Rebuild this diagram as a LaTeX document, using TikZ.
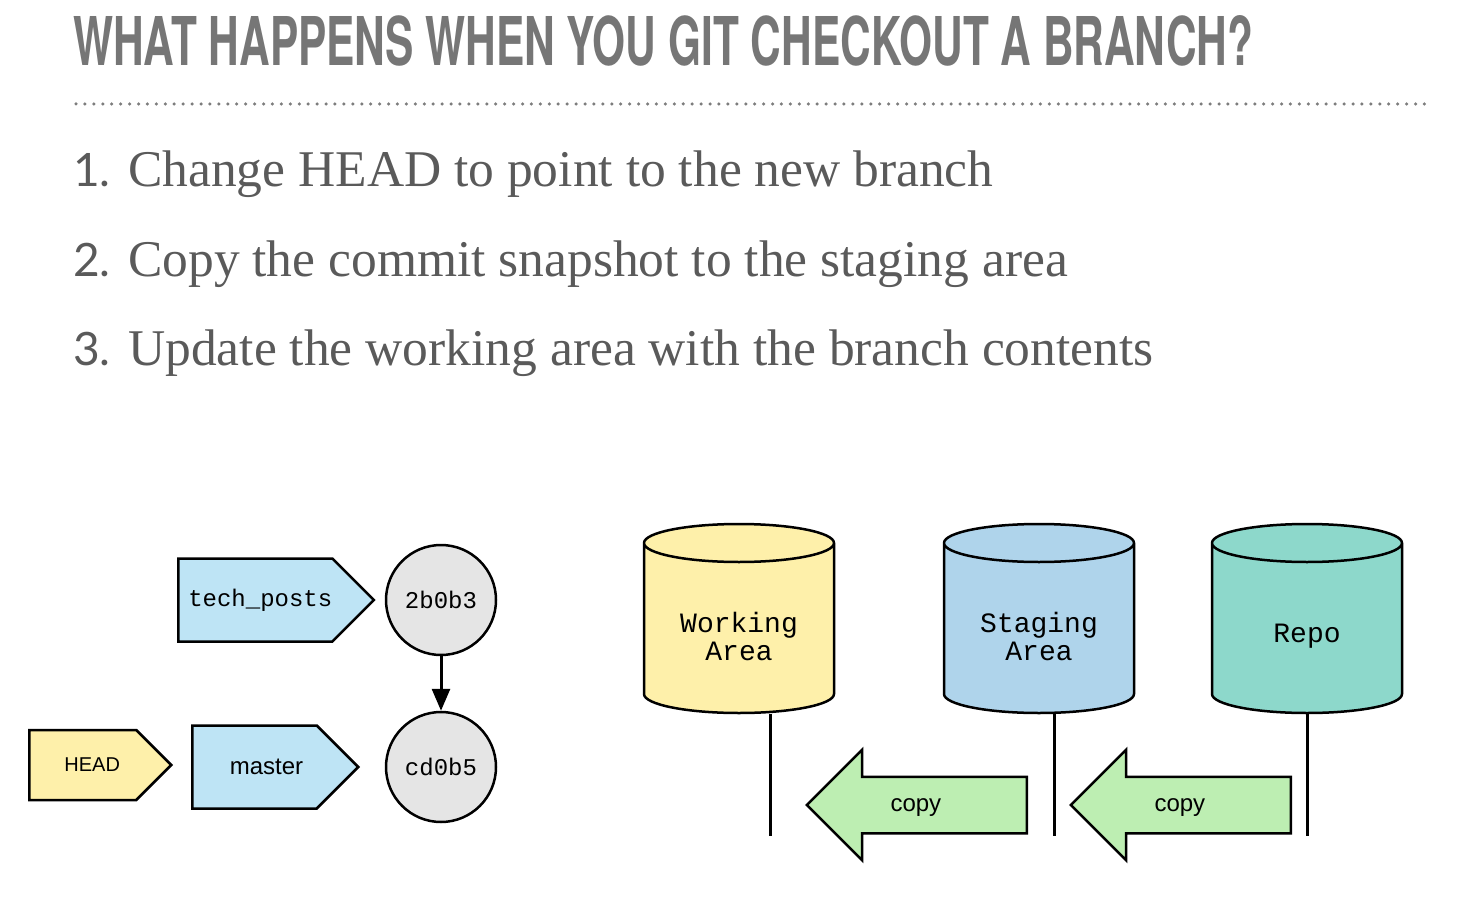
\documentclass[tikz,border=0pt]{standalone}
\usepackage{fontspec}
\setmainfont{Liberation Serif}
\setsansfont{Liberation Sans}
\setmonofont{Liberation Mono}
\newfontfamily\titlefont{TeX Gyre Heros}
\newfontfamily\numfont{Lato}
\usetikzlibrary{positioning,shapes.geometric,shapes.symbols,shapes.arrows,arrows.meta}

\definecolor{titlegray}{RGB}{118,118,118}
\definecolor{textgray}{RGB}{90,90,90}
\definecolor{dotgray}{RGB}{125,125,125}
\definecolor{branchblue}{RGB}{190,228,245}
\definecolor{headyellow}{RGB}{254,240,170}
\definecolor{commitgray}{RGB}{229,229,229}
\definecolor{stageblue}{RGB}{175,212,235}
\definecolor{repoteal}{RGB}{141,216,203}
\definecolor{copygreen}{RGB}{189,238,178}

\begin{document}
\begin{tikzpicture}[
        x=1pt, y=-1pt,
        branch/.style={
                signal,
                signal to=east,
                signal from=nowhere,
                draw=black,
                line width=2.5pt,
                fill=branchblue,
                minimum height=83pt,
                inner sep=0pt,
                font=\fontsize{24}{24}\selectfont\sffamily
            },
        headref/.style={
                branch,
                fill=headyellow,
                minimum height=70pt,
                font=\fontsize{20}{20}\selectfont\sffamily
            },
        commit/.style={
                circle,
                draw=black,
                line width=2.5pt,
                fill=commitgray,
                minimum size=110pt,
                inner sep=0pt,
                font=\fontsize{24}{24}\selectfont\ttfamily
            },
        area/.style={
                cylinder,
                shape border rotate=90,
                aspect=0.2,
                draw=black,
                line width=2.5pt,
                text width=190pt,
                minimum width=190pt,
                minimum height=189pt,
                inner sep=0pt
            },
        areatext/.style={
                align=center,
                inner sep=0pt,
                font=\fontsize{28}{28}\selectfont\ttfamily
            },
        copyarrow/.style={
                single arrow,
                shape border rotate=180,
                draw=black,
                line width=2.5pt,
                fill=copygreen,
                minimum height=220pt,
                single arrow head extend=27pt,
                text height=18pt,
                text depth=6pt,
                inner ysep=15pt,
                inner xsep=2pt,
                font=\fontsize{24}{24}\selectfont\sffamily
            },
        stem/.style={line width=3pt},
        item/.style={anchor=base west, inner sep=0pt, text=textgray, font=\fontsize{51.5}{51.5}\selectfont},
        num/.style={anchor=base west, inner sep=0pt, text=textgray, font=\fontsize{46}{46}\selectfont\numfont}
    ]
    \useasboundingbox (0,0) rectangle (1477,912);

    % heading
    \node[anchor=north west, inner sep=0pt, text=titlegray] (title) at (73,15)
        {\resizebox{1180pt}{50pt}{\titlefont\bfseries WHAT HAPPENS WHEN YOU GIT CHECKOUT A BRANCH?}};
    \draw[dotgray, line width=3.5pt, line cap=round, dash pattern=on 0pt off 8.93pt] (76,104) -- (1432,104);

    % steps
    \node[num]  (n1) at (73,187)  {1.};
    \node[item] (s1) at (128,187) {Change HEAD to point to the new branch};
    \node[num]  (n2) at (73,276)  {2.};
    \node[item] (s2) at (128,276) {Copy the commit snapshot to the staging area};
    \node[num]  (n3) at (73,365)  {3.};
    \node[item] (s3) at (128,365) {Update the working area with the branch contents};

    % branches and commits
    \node[commit] (c2b0b3) at (441,600) {2b0b3};
    \node[commit] (cd0b5)  at (441,767) {cd0b5};
    \node[branch, minimum width=195pt, anchor=west, font=\fontsize{24}{24}\selectfont\ttfamily] (tech) at (177,600) {\hspace*{10pt}tech\_posts};
    \node[branch, minimum width=166pt, anchor=west] (master) at (191,767) {\hspace*{24pt}master};
    \node[headref, minimum width=142pt, anchor=west] (head)  at (28,765)  {\hspace*{19pt}HEAD};

    \draw[line width=3pt, -{Triangle[length=22pt,width=18pt]}] (c2b0b3) -- (cd0b5);

    % areas
    \node[area, fill=headyellow, anchor=shape center] (working) at (739,618.5) {};
    \node[area, fill=stageblue,  anchor=shape center] (staging) at (1039,618.5) {};
    \node[area, fill=repoteal,   anchor=shape center] (repo)    at (1307,618.5) {};
    \node[areatext] (working label) at ([yshift=-18pt]working.shape center) {Working\\Area};
    \node[areatext] (staging label) at ([yshift=-18pt]staging.shape center) {Staging\\Area};
    \node[areatext] (repo label)    at ([yshift=-18pt]repo.shape center)    {Repo};

    \coordinate (working foot) at (770,836);
    \coordinate (staging foot) at (1054,836);
    \coordinate (repo foot)    at (1307,836);
    \draw[stem] (working.south -| working foot) -- (working foot);
    \draw[stem] (staging.south -| staging foot) -- (staging foot);
    \draw[stem] (repo.south) -- (repo foot);

    \node[copyarrow, anchor=tip] (copy1) at (805,805)  {copy\hspace*{30pt}};
    \node[copyarrow, anchor=tip] (copy2) at (1069,805) {copy\hspace*{30pt}};
\end{tikzpicture}
\end{document}
